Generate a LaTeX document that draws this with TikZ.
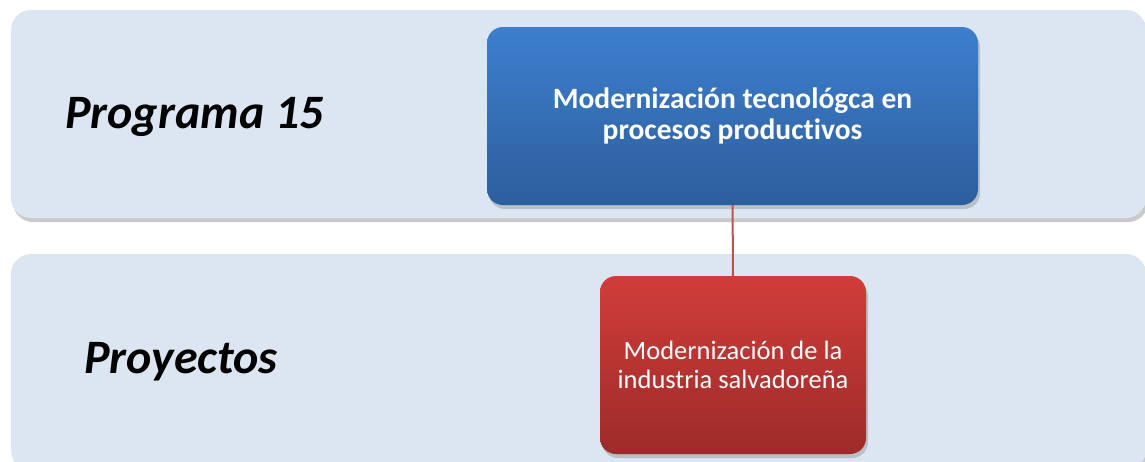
\documentclass[tikz,border=0pt]{standalone}
\usepackage{fontspec}
\setmainfont{Carlito}[Ligatures=NoCommon]
\usetikzlibrary{positioning, shadows, calc}
\definecolor{bandfill}{HTML}{DCE6F2}
\definecolor{bluetop}{HTML}{3D7FCE}
\definecolor{bluebot}{HTML}{2D5E9C}
\definecolor{redtop}{HTML}{D03D3A}
\definecolor{redbot}{HTML}{9D2B29}
\definecolor{linkred}{HTML}{C0504D}
\tikzset{
    band/.style = {rectangle, rounded corners=20pt, fill=bandfill, draw=none,
        drop shadow={shadow xshift=2pt, shadow yshift=-4pt, opacity=0.35, fill=black!60}},
    bandlabel/.style = {font=\fontsize{48}{54}\selectfont\bfseries\itshape, anchor=base west, inner sep=0pt},
    boxbase/.style = {rectangle, rounded corners=16pt, draw=none, align=center, text=white,
        drop shadow={shadow xshift=2pt, shadow yshift=-4pt, opacity=0.3, fill=black!60}},
    progbox/.style = {boxbase, top color=bluetop, bottom color=bluebot,
        minimum width=491pt, minimum height=178pt,
        font=\fontsize{29.5}{30.5}\selectfont\bfseries},
    projbox/.style = {boxbase, top color=redtop, bottom color=redbot,
        minimum width=266pt, minimum height=178pt,
        font=\fontsize{26.5}{29}\selectfont},
    link/.style = {draw=linkred, line width=2pt}
}
\begin{document}
\begin{tikzpicture}[x=1pt, y=-1pt]
    \useasboundingbox (0,0) rectangle (1145,461);

    % bands
    \node[band, minimum width=1135pt, minimum height=208pt] (topband) at (578.5,114) {};
    \node[band, minimum width=1135pt, minimum height=216pt] (botband) at (578.5,362) {};

    % band labels
    \node[bandlabel] (progtitle) at (65,128) {Programa 15};
    \node[bandlabel] (projtitle) at (84,373) {Proyectos};

    % boxes
    \node[progbox] (prog) at (732.5,116) {Modernización tecnológca en\\procesos productivos};
    \node[projbox] (proj) at (733,365) {Modernización de la\\industria salvadoreña};

    \draw[link] (prog) -- (proj);
\end{tikzpicture}
\end{document}
